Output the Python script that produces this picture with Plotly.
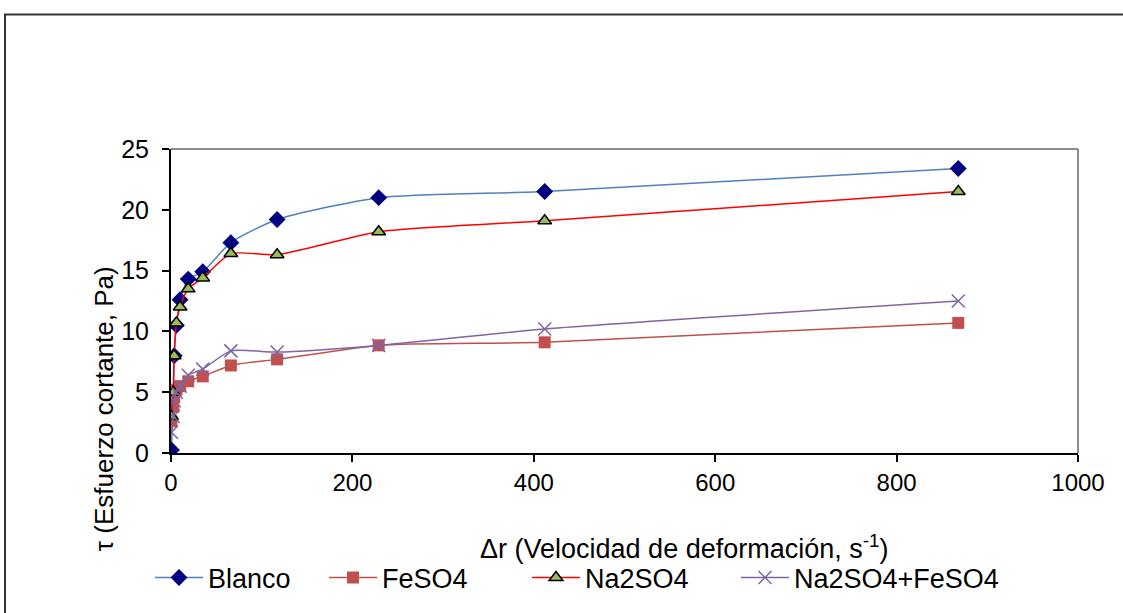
import plotly.graph_objects as go

# shear rate (s^-1)
x_rate = [0.5, 2.5, 3.5, 6, 10, 19, 35, 66, 117, 229, 412, 868]

blanco = [0.25, 5.0, 8.0, 10.5, 12.6, 14.3, 14.9, 17.3, 19.2, 21.0, 21.5, 23.4]
feso4 = [2.6, 3.8, 4.6, 5.2, 5.5, 5.9, 6.3, 7.2, 7.7, 8.85, 9.1, 10.7]
na2so4 = [3.0, 5.0, 8.0, 10.7, 12.0, 13.5, 14.4, 16.4, 16.3, 18.2, 19.1, 21.5]
na2so4_feso4 = [1.7, 3.0, 4.3, 5.0, 5.5, 6.4, 6.9, 8.4, 8.3, 8.85, 10.2, 12.5]

x_ticks = [0, 200, 400, 600, 800, 1000]
y_ticks = [0, 5, 10, 15, 20, 25]

FONT = "Arial, Liberation Sans, sans-serif"

OFF = 0  # body margin removed via post_script
W, H = 1123, 613
L_page, R_page, T_page, B_page = 171, 1078, 149, 454
pw, ph = R_page - L_page, B_page - T_page
L, T = L_page - OFF, T_page - OFF
R = W - L - pw
B = H - T - ph


def px(xp):
    return (xp - L_page) / pw


def py(yp):
    return (B_page - yp) / ph


fig = go.Figure()
fig.add_trace(go.Scatter(
    x=x_rate, y=blanco, name="Blanco", mode="lines+markers", legend="legend",
    line=dict(color="#4F81BD", width=1.5, shape="spline", smoothing=0.6),
    marker=dict(symbol="diamond", size=13, color="#000080")))
fig.add_trace(go.Scatter(
    x=x_rate, y=feso4, name="FeSO4", mode="lines+markers", legend="legend2",
    line=dict(color="#C0504D", width=1.5, shape="spline", smoothing=0.6),
    marker=dict(symbol="square", size=12, color="#C0504D")))
fig.add_trace(go.Scatter(
    x=x_rate, y=na2so4, name="Na2SO4", mode="lines+markers", legend="legend3",
    line=dict(color="#FF0000", width=1.5, shape="spline", smoothing=0.6),
    marker=dict(symbol="triangle-up", size=12, color="#9BBB59",
                line=dict(color="#000000", width=1.5))))
fig.add_trace(go.Scatter(
    x=x_rate, y=na2so4_feso4, name="Na2SO4+FeSO4", mode="lines+markers", legend="legend4",
    line=dict(color="#8064A2", width=1.5, shape="spline", smoothing=0.6),
    marker=dict(symbol="x-thin", size=13, color="#8064A2",
                line=dict(color="#8064A2", width=1.5))))


def leg(text_start):
    # legend box left edge so that the entry text begins at text_start
    return dict(orientation="h", x=px(text_start - 58), y=py(578),
                xanchor="left", yanchor="middle", font=dict(size=27),
                bgcolor="rgba(0,0,0,0)", itemwidth=48)


fig.update_layout(
    width=W, height=H,
    margin=dict(l=L, r=R, t=T, b=B),
    paper_bgcolor="white", plot_bgcolor="white",
    font=dict(family=FONT, size=24, color="#000000"),
    showlegend=True,
    legend=leg(208), legend2=leg(382), legend3=leg(585), legend4=leg(794),
    xaxis=dict(range=[0, 1000], tickvals=x_ticks, ticks="outside", ticklen=7,
               tickwidth=1.5, tickcolor="#000", showline=True, linecolor="#000",
               linewidth=2, showgrid=False, zeroline=False,
               tickfont=dict(size=24)),
    yaxis=dict(range=[0, 25], tickvals=y_ticks, ticks="outside", ticklen=7,
               tickwidth=1.5, tickcolor="#000", showline=True, linecolor="#000",
               linewidth=2, showgrid=False, zeroline=False,
               tickfont=dict(size=25), ticklabelstandoff=8),
    shapes=[
        # plot area top and right border (gray)
        dict(type="line", xref="paper", yref="paper", x0=0, x1=1, y0=1, y1=1,
             line=dict(color="#8c8c8c", width=2)),
        dict(type="line", xref="paper", yref="paper", x0=1, x1=1, y0=0, y1=1,
             line=dict(color="#8c8c8c", width=2)),
        # outer chart frame
        dict(type="rect", xref="paper", yref="paper",
             x0=px(5), x1=px(1140), y0=py(640), y1=py(14),
             line=dict(color="#333333", width=2), layer="below"),
    ],
    annotations=[
        dict(text="τ (Esfuerzo cortante, Pa)", xref="paper", yref="paper",
             x=px(104), y=py(410), textangle=-90, showarrow=False,
             font=dict(size=26), xanchor="center", yanchor="middle"),
        dict(text="Δr (Velocidad de deformación, s<sup>-1</sup>)", xref="paper", yref="paper",
             x=px(684), y=py(548), showarrow=False,
             font=dict(size=27), xanchor="center", yanchor="middle"),
    ],
)

fig.write_html("out.html", config={"displayModeBar": False},
               post_script="document.body.style.margin='0px';")
